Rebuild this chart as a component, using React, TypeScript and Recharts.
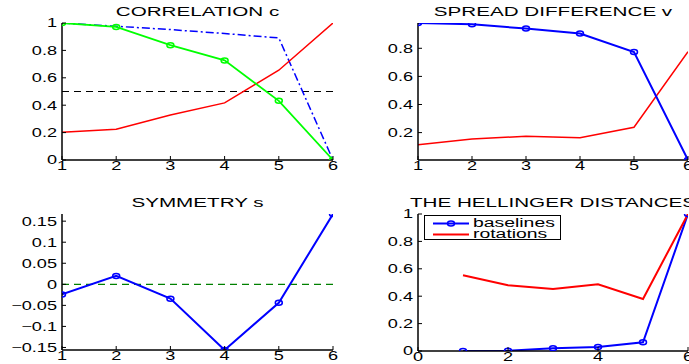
import React from "react";
import { LineChart, Line, XAxis, YAxis, ReferenceLine, Legend } from "recharts";

// x positions shared by every panel
const steps = [1, 2, 3, 4, 5, 6];

// CORRELATION c
const corrGreen = [1.0, 0.971, 0.838, 0.727, 0.432, 0.0];
const corrBlue = [1.0, 0.976, 0.952, 0.923, 0.891, 0.0];
const corrRed = [0.202, 0.224, 0.328, 0.417, 0.655, 1.0];
const corrThreshold = 0.5;
const corrYTicks = [0, 0.2, 0.4, 0.6, 0.8, 1];

// SPREAD DIFFERENCE v
const spreadBlue = [0.98, 0.971, 0.94, 0.905, 0.774, 0.005];
const spreadRed = [0.114, 0.155, 0.174, 0.164, 0.238, 0.776];
const spreadYTicks = [0.2, 0.4, 0.6, 0.8];

// SYMMETRY s
const symmetry = [-0.024, 0.02, -0.034, -0.156, -0.044, 0.167];
const symmetryZero = 0;
const symmetryYTicks = [-0.15, -0.1, -0.05, 0, 0.05, 0.1, 0.15];

// THE HELLINGER DISTANCES
const hellBaselines = [0.0, 0.002, 0.02, 0.03, 0.063, 1.0];
const hellRotations = [0.553, 0.48, 0.453, 0.487, 0.38, 1.0];
const hellXTicks = [0, 2, 4, 6];
const hellYTicks = [0, 0.2, 0.4, 0.6, 0.8, 1];

const FONT = '"Liberation Sans", Arial, Helvetica, sans-serif';
const TICK_SCALE = 1.45;
const TICK_LEN = 4;

const fmt = (v: number) => String(Math.round(v * 100) / 100).replace("-", "\u2212");

const BottomTick = (p: any) => (
  <g>
    <line x1={p.x} y1={p.y} x2={p.x} y2={p.y - TICK_LEN} stroke="#000" strokeWidth={1} />
    <g transform={`translate(${p.x},${p.y + 1}) scale(${TICK_SCALE},1)`}>
      <text x={0} y={0} dy="0.71em" textAnchor="middle" fontFamily={FONT} fontSize={12.5} fill="#000">
        {fmt(p.payload.value)}
      </text>
    </g>
  </g>
);

const LeftTick = (p: any) => (
  <g>
    <line x1={p.x} y1={p.y} x2={p.x + TICK_LEN} y2={p.y} stroke="#000" strokeWidth={1} />
    <g transform={`translate(${p.x - 5},${p.y}) scale(${TICK_SCALE},1)`}>
      <text x={0} y={0} dy="0.355em" textAnchor="end" fontFamily={FONT} fontSize={12.5} fill="#000">
        {fmt(p.payload.value)}
      </text>
    </g>
  </g>
);

const TopTick = (p: any) => (
  <line x1={p.x} y1={p.y} x2={p.x} y2={p.y + TICK_LEN} stroke="#000" strokeWidth={1} />
);

const RightTick = (p: any) => (
  <line x1={p.x} y1={p.y} x2={p.x - TICK_LEN} y2={p.y} stroke="#000" strokeWidth={1} />
);

const ring = (color: string) => (p: any) =>
  <ellipse key={p.index} cx={p.cx} cy={p.cy} rx={3.5} ry={2.5} fill="none" stroke={color} strokeWidth={1.5} />;

type Rect = { x: number; y: number; w: number; h: number };

function Title({ rect, text, cy }: { rect: Rect; text: string; cy: number }) {
  return (
    <div
      style={{
        position: "absolute", left: rect.x, top: cy - 8, width: rect.w, height: 16, lineHeight: "16px",
        textAlign: "center", fontFamily: FONT, fontSize: 12.5, color: "#000",
        transform: "scaleX(1.65)", whiteSpace: "nowrap",
      }}
    >
      {text}
    </div>
  );
}

function Panel({ rect, data, xDomain, xTicks, yDomain, yTicks, topColor, children }: any) {
  return (
    <div style={{ position: "absolute", left: rect.x - 60, top: rect.y - 10 }}>
      <LineChart width={rect.w + 70} height={rect.h + 35} data={data} margin={{ top: 10, right: 10, left: 0, bottom: 0 }}>
        <XAxis dataKey="x" type="number" domain={xDomain} ticks={xTicks} interval={0} allowDataOverflow
          height={25} tickSize={0} tickMargin={0} tickLine={false} tick={BottomTick}
          axisLine={{ stroke: "#000", strokeWidth: 1.5 }} />
        <XAxis xAxisId="top" orientation="top" dataKey="x" type="number" domain={xDomain} ticks={xTicks} interval={0}
          allowDataOverflow height={0} tickSize={0} tickMargin={0} tickLine={false} tick={TopTick}
          axisLine={{ stroke: topColor, strokeWidth: topColor === "#000" ? 1.5 : 3 }} />
        <YAxis type="number" domain={yDomain} ticks={yTicks} interval={0} allowDataOverflow width={60}
          tickSize={0} tickMargin={0} tickLine={false} tick={LeftTick}
          axisLine={{ stroke: "#000", strokeWidth: 1.5 }} />
        <YAxis yAxisId="right" orientation="right" type="number" domain={yDomain} ticks={yTicks} interval={0}
          allowDataOverflow width={0} tickSize={0} tickMargin={0} tickLine={false} tick={RightTick}
          axisLine={{ stroke: "#000", strokeWidth: 1.5 }} />
        {children}
      </LineChart>
    </div>
  );
}

const HellLegend = ({ payload }: any) => (
  <div style={{ position: "relative", width: 137, height: 25, border: "1px solid #000", background: "#fff", boxSizing: "border-box" }}>
    {(payload || []).map((e: any, i: number) => (
      <div key={e.value} style={{ position: "absolute", left: 0, top: 2 + i * 11, height: 11, width: 135 }}>
        <svg width={44} height={11} style={{ position: "absolute", left: 0, top: 0 }}>
          <line x1={8} y1={5.5} x2={44} y2={5.5} stroke={e.color} strokeWidth={2} />
          {e.type === "circle" && <ellipse cx={26} cy={5.5} rx={3.5} ry={2.5} fill="none" stroke={e.color} strokeWidth={1.5} />}
        </svg>
        <span style={{
          position: "absolute", left: 48, top: 0, fontFamily: FONT, fontSize: 12.5, lineHeight: "11px", height: 11,
          transform: "scaleX(1.55)", transformOrigin: "left center", whiteSpace: "nowrap", color: "#000",
        }}>{e.value}</span>
      </div>
    ))}
  </div>
);

const corrData = steps.map((x, i) => ({ x, green: corrGreen[i], blue: corrBlue[i], red: corrRed[i] }));
const spreadData = steps.map((x, i) => ({ x, blue: spreadBlue[i], red: spreadRed[i] }));
const symData = steps.map((x, i) => ({ x, s: symmetry[i] }));
const hellData = steps.map((x, i) => ({ x, baselines: hellBaselines[i], rotations: hellRotations[i] }));

const spreadAll = [...spreadBlue, ...spreadRed];
const spreadDomain = [Math.min(...spreadAll), Math.max(...spreadAll)];
const symDomain = [Math.min(...symmetry), Math.max(...symmetry)];

const TL: Rect = { x: 62, y: 23, w: 271, h: 137 };
const TR: Rect = { x: 418, y: 23, w: 270, h: 137 };
const BL: Rect = { x: 62, y: 214, w: 271, h: 136 };
const BR: Rect = { x: 418, y: 214, w: 270, h: 137 };

export default function App() {
  return (
    <div style={{ position: "absolute", left: 0, top: 0, width: 689, height: 364, overflow: "hidden", background: "#fff" }}>
      <Title rect={TL} text="CORRELATION c" cy={12} />
      <Panel rect={TL} data={corrData} xDomain={[1, 6]} xTicks={steps} yDomain={[0, 1]} yTicks={corrYTicks} topColor="#808080">
        <ReferenceLine y={corrThreshold} stroke="#000" strokeWidth={1.2} strokeDasharray="7 5" />
        <Line type="linear" dataKey="blue" stroke="#0000ff" strokeWidth={1.5} strokeDasharray="8 3 2 3" dot={false} isAnimationActive={false} />
        <Line type="linear" dataKey="red" stroke="#ff0000" strokeWidth={1.5} dot={false} isAnimationActive={false} />
        <Line type="linear" dataKey="green" stroke="#00ff00" strokeWidth={1.8} dot={ring("#00ff00")} isAnimationActive={false} />
      </Panel>

      <Title rect={TR} text="SPREAD DIFFERENCE v" cy={12} />
      <Panel rect={TR} data={spreadData} xDomain={[1, 6]} xTicks={steps} yDomain={spreadDomain} yTicks={spreadYTicks} topColor="#808080">
        <Line type="linear" dataKey="red" stroke="#ff0000" strokeWidth={1.5} dot={false} isAnimationActive={false} />
        <Line type="linear" dataKey="blue" stroke="#0000ff" strokeWidth={2} dot={ring("#0000ff")} isAnimationActive={false} />
      </Panel>

      <Title rect={BL} text="SYMMETRY s" cy={203} />
      <Panel rect={BL} data={symData} xDomain={[1, 6]} xTicks={steps} yDomain={symDomain} yTicks={symmetryYTicks} topColor="#000">
        <ReferenceLine y={symmetryZero} stroke="#008000" strokeWidth={1.2} strokeDasharray="7 5" />
        <Line type="linear" dataKey="s" stroke="#0000ff" strokeWidth={2} dot={ring("#0000ff")} isAnimationActive={false} />
      </Panel>

      <Title rect={BR} text="THE HELLINGER DISTANCES" cy={203} />
      <Panel rect={BR} data={hellData} xDomain={[0, 6]} xTicks={hellXTicks} yDomain={[0, 1]} yTicks={hellYTicks} topColor="#000">
        <Line type="linear" dataKey="baselines" name="baselines" legendType="circle" stroke="#0000ff" strokeWidth={2} dot={ring("#0000ff")} isAnimationActive={false} />
        <Line type="linear" dataKey="rotations" name="rotations" legendType="line" stroke="#ff0000" strokeWidth={2} dot={false} isAnimationActive={false} />
        <Legend verticalAlign="middle" align="center" content={HellLegend}
          wrapperStyle={{ left: 66, top: 11, width: 137, height: 25 }} />
      </Panel>
    </div>
  );
}
